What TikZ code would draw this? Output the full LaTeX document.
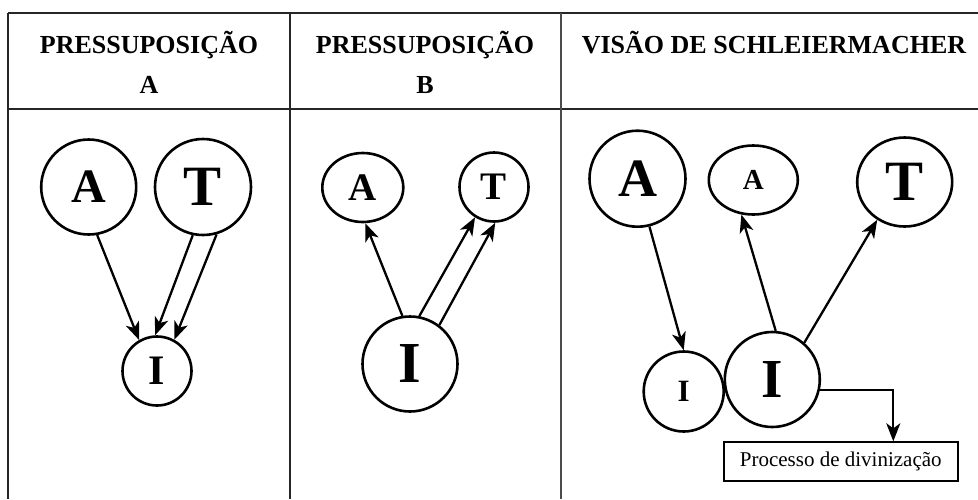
\documentclass[tikz,border=0pt]{standalone}
\usepackage{fontspec}
\setmainfont{Liberation Serif}
\usetikzlibrary{arrows.meta,shapes.geometric,calc}
\tikzset{
  circ/.style={circle,draw,line width=2.6pt,inner sep=0pt,minimum size=#1,font=\bfseries},
  ell/.style={ellipse,draw,line width=2.6pt,inner sep=0pt,font=\bfseries},
  arr/.style={line width=2.3pt,-{Stealth[length=18pt,width=14pt,inset=5pt]}},
  tbl/.style={line width=2.2pt,draw=black!85},
  head/.style={font=\fontsize{26}{30}\selectfont\bfseries,anchor=base,inner sep=0pt},
}
\newcommand{\fs}[1]{\fontsize{#1}{#1}\selectfont}
\begin{document}
\begin{tikzpicture}[x=1pt,y=-1pt]
\useasboundingbox (0,0) rectangle (978,499);
% table
\draw[tbl] (8.3,13.3) -- (978,13.3);
\draw[tbl] (8.3,108.8) -- (978,108.8);
\draw[tbl] (8.3,13.3) -- (8.3,499);
\draw[tbl] (289.7,13.3) -- (289.7,499);
\draw[tbl,draw=black!70] (561,13.3) -- (561,499);
% headers
\node[head] (h1a) at (149,53) {PRESSUPOSIÇÃO};
\node[head] (h1b) at (149,93) {A};
\node[head] (h2a) at (425,53) {PRESSUPOSIÇÃO};
\node[head] (h2b) at (425,93) {B};
\node[head] (h3a) at (774,53) {VISÃO DE SCHLEIERMACHER};
% column 1
\node[circ=95pt] (a1) at (88.7,187) {\fs{48}A};
\node[circ=96pt] (t1) at (203,187) {\fs{57}T};
\node[circ=69pt] (i1) at (157,371) {\fs{42}I};
\draw[arr] (a1.-80) -- (i1.120);
\draw[arr] (t1.-102) -- (i1.93);
\draw[arr] (t1.-74) -- (i1.61);
% column 2
\node[ell,minimum width=81pt,minimum height=69pt] (a2) at (362.8,187.5) {\fs{39}A};
\node[circ=69pt] (t2) at (494,187) {\fs{39}T};
\node[circ=95pt] (i2) at (410,364) {\fs{58}I};
\draw[arr] (i2.99.6) -- (a2.-86);
\draw[arr] (i2.79) -- (t2.-122);
\draw[arr] (i2.53.6) -- (t2.-88);
% column 3
\node[circ=96pt] (a3) at (637.5,178.7) {\fs{54}A};
\node[ell,minimum width=89pt,minimum height=69pt] (sa3) at (753.3,180) {\fs{29}A};
\node[ell,minimum width=95pt,minimum height=89pt] (t3) at (904.7,182) {\fs{57}T};
\node[circ=80pt] (si3) at (683.7,391.5) {\fs{31}I};
\node[circ=95pt] (bi3) at (772.3,379.5) {\fs{55}I};
\node[draw,line width=1.8pt,minimum width=234pt,minimum height=39pt,inner sep=0pt,font=\fs{21}] (box) at (840.8,461.7) {Processo de divinização};
\draw[arr] (a3.-76.5) -- (si3.90);
\draw[arr] (bi3.86.8) -- (sa3.-109);
\draw[arr] (bi3.49.7) -- (t3.-126.8);
\draw[arr] (bi3.-12) -| ([xshift=52.5pt]box.north);
\end{tikzpicture}
\end{document}
